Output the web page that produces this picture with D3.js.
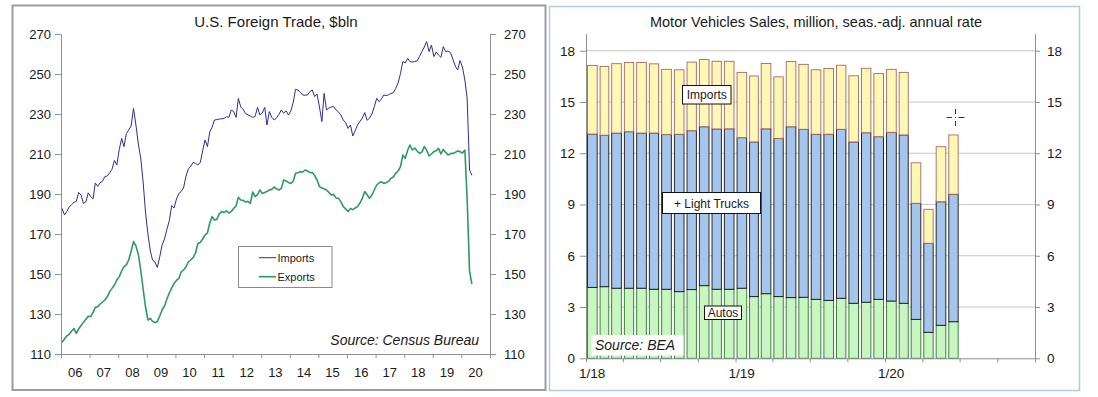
<!DOCTYPE html>
<html><head><meta charset="utf-8">
<script src="https://cdn.jsdelivr.net/npm/d3@7"></script>
<style>
body{margin:0;background:#fff;}
svg{display:block;font-family:"Liberation Sans",Arial,sans-serif;}
</style></head><body>
<svg id="c" width="1098" height="397"></svg>
<script>
// ---------- Left chart data: U.S. Foreign Trade, $bln (monthly, Jan 2006 - May 2020)
const tradeYearLabels = ["06","07","08","09","10","11","12","13","14","15","16","17","18","19","20"];
const tradeTicks = [110,130,150,170,190,210,230,250,270];
const tradeImports = [
182.8,179.5,181.2,183.5,184.6,185.8,186.3,190.8,189.4,185.3,186.1,190.6,
188.7,187.6,195.5,193.8,195.6,196.4,198.7,199.0,200.6,202.4,206.8,204.5,
212.3,217.8,213.7,220.3,222.0,224.0,232.8,224.5,215.0,208.0,196.0,181.0,
170.0,161.5,157.0,156.0,153.3,158.6,164.5,167.5,172.4,176.6,184.2,183.0,
187.5,190.3,191.2,193.0,198.7,202.6,203.7,205.8,205.3,204.5,205.8,211.5,
217.0,213.7,221.0,223.4,227.0,227.2,227.5,227.6,227.8,228.6,228.4,231.9,
231.2,228.3,237.8,233.5,232.3,230.2,229.6,229.0,228.3,228.8,233.3,229.6,
230.5,233.3,224.5,231.2,228.4,227.0,228.0,229.8,232.0,230.4,231.6,229.5,
231.6,236.0,242.3,242.0,241.0,239.5,239.4,239.5,241.2,242.0,238.7,240.0,
233.5,226.2,240.3,232.0,233.0,233.5,233.7,232.0,231.0,229.5,227.0,225.6,
222.8,224.5,219.0,221.6,224.5,226.2,228.0,230.7,226.8,228.0,230.0,233.6,
237.8,236.2,237.4,239.5,239.2,239.6,240.3,240.6,242.8,245.5,250.3,256.2,
255.5,257.8,256.2,256.0,256.2,256.5,258.7,261.2,263.5,266.2,261.2,264.5,
258.7,261.0,259.5,258.3,263.7,261.2,261.5,260.7,257.5,254.0,252.0,256.7,
253.5,247.0,238.0,202.0,199.3];
const tradeExports = [
115.8,117.5,119.0,119.8,121.4,122.8,120.3,122.6,124.2,125.8,127.4,128.9,
128.7,130.8,133.3,133.6,135.0,136.0,137.0,138.6,141.2,142.8,144.5,147.0,
148.7,151.5,153.7,154.6,157.0,161.5,166.2,164.0,159.8,152.0,142.5,133.5,
127.0,127.8,126.4,125.7,126.2,129.0,132.0,134.0,137.6,140.5,143.0,145.3,
146.8,147.8,151.0,152.0,153.5,156.0,157.0,158.2,160.5,165.3,165.8,167.5,
169.5,170.6,175.4,178.7,177.0,177.3,180.1,181.2,180.8,181.6,180.5,181.2,
182.8,184.0,188.3,187.0,186.8,186.0,186.3,185.3,191.0,188.7,189.7,192.0,
190.3,190.8,191.2,192.0,192.3,193.5,192.6,192.0,192.8,197.0,196.5,195.8,
195.3,196.5,200.3,200.6,201.2,201.0,202.0,201.5,200.7,200.7,199.2,197.0,
193.7,193.0,192.6,192.0,190.8,189.5,189.8,188.0,187.8,186.2,183.7,182.6,
181.2,182.8,182.2,183.0,183.7,185.5,187.8,191.2,189.6,187.8,189.5,192.0,
194.5,195.5,196.2,195.3,195.6,196.3,197.8,198.5,200.3,201.5,203.7,209.5,
207.8,212.0,214.5,212.0,213.0,211.5,210.3,211.0,213.7,212.0,209.0,210.0,
211.2,211.6,212.8,210.0,212.3,210.8,209.5,210.2,210.3,210.8,211.5,211.2,
210.5,212.0,187.5,151.3,145.0];

// ---------- Right chart data: Motor vehicle sales, million SAAR (Jan 2018 - Jun 2020)
const salesTicks = [0,3,6,9,12,15,18];
const salesXLabels = ["1/18","1/19","1/20"];
const salesAutos = [4.15,4.19,4.10,4.10,4.10,4.04,4.04,3.90,4.02,4.25,4.04,4.04,
  4.10,3.61,3.78,3.61,3.55,3.57,3.45,3.39,3.51,3.22,3.28,3.45,
  3.35,3.22,2.28,1.52,1.93,2.14];
const salesLightTrucks = [8.97,8.86,9.08,9.16,9.08,9.14,9.05,9.21,9.30,9.30,9.38,9.39,
  8.81,9.05,9.65,9.26,10.00,9.83,9.66,9.72,9.89,9.44,9.92,9.52,
  9.87,9.85,6.79,5.21,7.23,7.46];
const salesImports = [4.01,4.03,4.06,4.05,4.13,4.05,3.82,3.77,4.01,3.93,3.96,3.95,
  3.82,3.86,3.82,3.60,3.81,3.80,3.77,3.85,3.75,3.87,3.77,3.69,
  3.69,3.66,2.37,1.99,3.22,3.47];

const txt = "#1a1a1a";
const svg = d3.select("#c");

// ---------- panel frames
svg.append("rect").attr("x",12.5).attr("y",5.5).attr("width",533).attr("height",384.5)
  .attr("fill","#fff").attr("stroke","#9c9c9c").attr("stroke-width",2);
svg.append("rect").attr("x",549.5).attr("y",6.5).attr("width",530).attr("height",384)
  .attr("fill","#fff").attr("stroke","#b4c9e2").attr("stroke-width",1.5);

// ================= LEFT CHART =================
const xT = d3.scaleTime().domain([new Date(2006,0,1), new Date(2021,0,1)]).range([61,490]);
const yT = d3.scaleLinear().domain([110,270]).range([354,34]);
const tradeDates = tradeImports.map((d,i)=> new Date(2006, i, 15));

svg.append("text").attr("x",276).attr("y",27).attr("text-anchor","middle")
  .attr("font-size",15).attr("fill",txt).text("U.S. Foreign Trade, $bln");

function styleAxis(g, color, fs){
  g.selectAll(".domain").attr("stroke",color);
  g.selectAll(".tick line").attr("stroke",color);
  g.selectAll(".tick text").attr("fill",txt).attr("font-size",fs)
    .attr("font-family","'Liberation Sans',Arial,sans-serif");
}

const gTL = svg.append("g").attr("transform","translate(61,0)")
  .call(d3.axisLeft(yT).tickValues(tradeTicks).tickSize(6).tickPadding(4).tickSizeOuter(0));
styleAxis(gTL,"#8f8f8f",13);
const gTR = svg.append("g").attr("transform","translate(490,0)")
  .call(d3.axisRight(yT).tickValues(tradeTicks).tickSize(6).tickPadding(8).tickSizeOuter(0));
styleAxis(gTR,"#8f8f8f",13);
const gTB = svg.append("g").attr("transform","translate(0,354)")
  .call(d3.axisBottom(xT).ticks(d3.timeYear.every(1)).tickFormat("").tickSize(4).tickSizeOuter(0));
styleAxis(gTB,"#8f8f8f",13);

svg.append("g").selectAll("text").data(tradeYearLabels).join("text")
  .attr("x",(d,i)=> xT(new Date(2006+i,6,1)))
  .attr("y",376.5).attr("text-anchor","middle").attr("font-size",13).attr("fill",txt)
  .text(d=>d);

const lineT = d3.line().x((d,i)=>xT(tradeDates[i])).y(d=>yT(d));
svg.append("path").datum(tradeImports).attr("d",lineT).attr("fill","none")
  .attr("stroke","#2b2f92").attr("stroke-width",1).attr("stroke-linejoin","round");
svg.append("path").datum(tradeExports).attr("d",lineT).attr("fill","none")
  .attr("stroke","#2e9a5e").attr("stroke-width",1.6).attr("stroke-linejoin","round");

// legend
const lg = svg.append("g");
lg.append("rect").attr("x",238.5).attr("y",246.5).attr("width",93.5).attr("height",41)
  .attr("fill","#fff").attr("stroke","#8a8a8a").attr("stroke-width",1);
[["Imports","#2b2f92",1,257.7],["Exports","#2e9a5e",1.6,276.7]].forEach(([t,c,w,y])=>{
  lg.append("line").attr("x1",259).attr("x2",276).attr("y1",y).attr("y2",y)
    .attr("stroke",c).attr("stroke-width",w);
  lg.append("text").attr("x",277.5).attr("y",y+4).attr("font-size",11).attr("fill",txt).text(t);
});

svg.append("text").attr("x",479).attr("y",345).attr("text-anchor","end")
  .attr("font-size",14).attr("font-style","italic").attr("fill",txt).text("Source: Census Bureau");

// ================= RIGHT CHART =================
const xS = d3.scaleTime().domain([new Date(2018,0,1), new Date(2021,0,1)]).range([586,1035]);
const yS = d3.scaleLinear().domain([0,19]).range([358.3,33.6]);

svg.append("text").attr("x",816).attr("y",27).attr("text-anchor","middle")
  .attr("font-size",14.5).attr("fill",txt).text("Motor Vehicles Sales, million, seas.-adj. annual rate");

// gridlines
svg.append("g").selectAll("line").data(salesTicks.filter(d=>d>0)).join("line")
  .attr("x1",586).attr("x2",1035).attr("y1",d=>yS(d)).attr("y2",d=>yS(d))
  .attr("stroke","#c6c6c6").attr("stroke-width",1);

// bars
const salesTable = salesAutos.map((a,i)=>({i, autos:a, trucks:salesLightTrucks[i], imports:salesImports[i]}));
const stack = d3.stack().keys(["autos","trucks","imports"])(salesTable);
const fills = {autos:"#c9f5c2", trucks:"#a5c5ec", imports:"#fff7b5"};
const strokes = {autos:"#2a7a2a", trucks:"#151515", imports:"#a8685e"};
stack.forEach(layer=>{
  svg.append("g").selectAll("rect").data(layer).join("rect")
    .attr("x",d=>{const x0=xS(new Date(2018,d.data.i,1)), x1=xS(new Date(2018,d.data.i+1,1)); const w=(x1-x0)*0.76; return (x0+x1)/2-w/2;})
    .attr("width",d=>{const x0=xS(new Date(2018,d.data.i,1)), x1=xS(new Date(2018,d.data.i+1,1)); return (x1-x0)*0.76;})
    .attr("y",d=>yS(d[1])).attr("height",d=>yS(d[0])-yS(d[1]))
    .attr("fill",fills[layer.key]).attr("stroke",strokes[layer.key]).attr("stroke-width",0.9);
});

// axes
const gSL = svg.append("g").attr("transform","translate(586,0)")
  .call(d3.axisLeft(yS).tickValues(salesTicks).tickSize(6).tickPadding(5).tickSizeOuter(0));
styleAxis(gSL,"#8f8f8f",13.5);
const gSR = svg.append("g").attr("transform","translate(1035,0)")
  .call(d3.axisRight(yS).tickValues(salesTicks).tickSize(5).tickPadding(7).tickSizeOuter(0));
styleAxis(gSR,"#8f8f8f",13.5);
const gSB = svg.append("g").attr("transform","translate(0,358.3)")
  .call(d3.axisBottom(xS).ticks(d3.timeMonth.every(3)).tickFormat("").tickSize(4).tickSizeOuter(0));
styleAxis(gSB,"#8f8f8f",13.5);

svg.append("g").selectAll("text").data(salesXLabels).join("text")
  .attr("x",(d,i)=> xS(new Date(2018+i,0,16)))
  .attr("y",378).attr("text-anchor","middle").attr("font-size",13.5).attr("fill",txt)
  .text(d=>d);

// annotation boxes
function box(x,y,w,h,label,cx,by){
  svg.append("rect").attr("x",x).attr("y",y).attr("width",w).attr("height",h)
    .attr("fill","#fff").attr("stroke","#111").attr("stroke-width",1);
  svg.append("text").attr("x",cx).attr("y",by).attr("text-anchor","middle")
    .attr("font-size",12).attr("fill",txt).text(label);
}
box(682.5,85.5,48.5,18.5,"Imports",706.8,99);
box(662.5,192.5,98,21,"+ Light Trucks",711.5,207.5);
box(704.5,306,37,13.5,"Autos",723,317);

svg.append("rect").attr("x",591.5).attr("y",335).attr("width",92).attr("height",20.5).attr("fill","#fff");
svg.append("text").attr("x",595).attr("y",350).attr("font-size",14).attr("font-style","italic")
  .attr("fill",txt).text("Source: BEA");

// crosshair marker
const ch = svg.append("g").attr("stroke","#333").attr("stroke-width",1);
ch.append("line").attr("x1",946.5).attr("x2",952).attr("y1",117.5).attr("y2",117.5);
ch.append("line").attr("x1",958.5).attr("x2",964.5).attr("y1",117.5).attr("y2",117.5);
ch.append("line").attr("x1",955.5).attr("x2",955.5).attr("y1",109).attr("y2",114);
ch.append("line").attr("x1",955.5).attr("x2",955.5).attr("y1",121).attr("y2",126);
ch.append("rect").attr("x",955).attr("y",117).attr("width",1).attr("height",1).attr("fill","#333").attr("stroke","none");
</script>
</body></html>
